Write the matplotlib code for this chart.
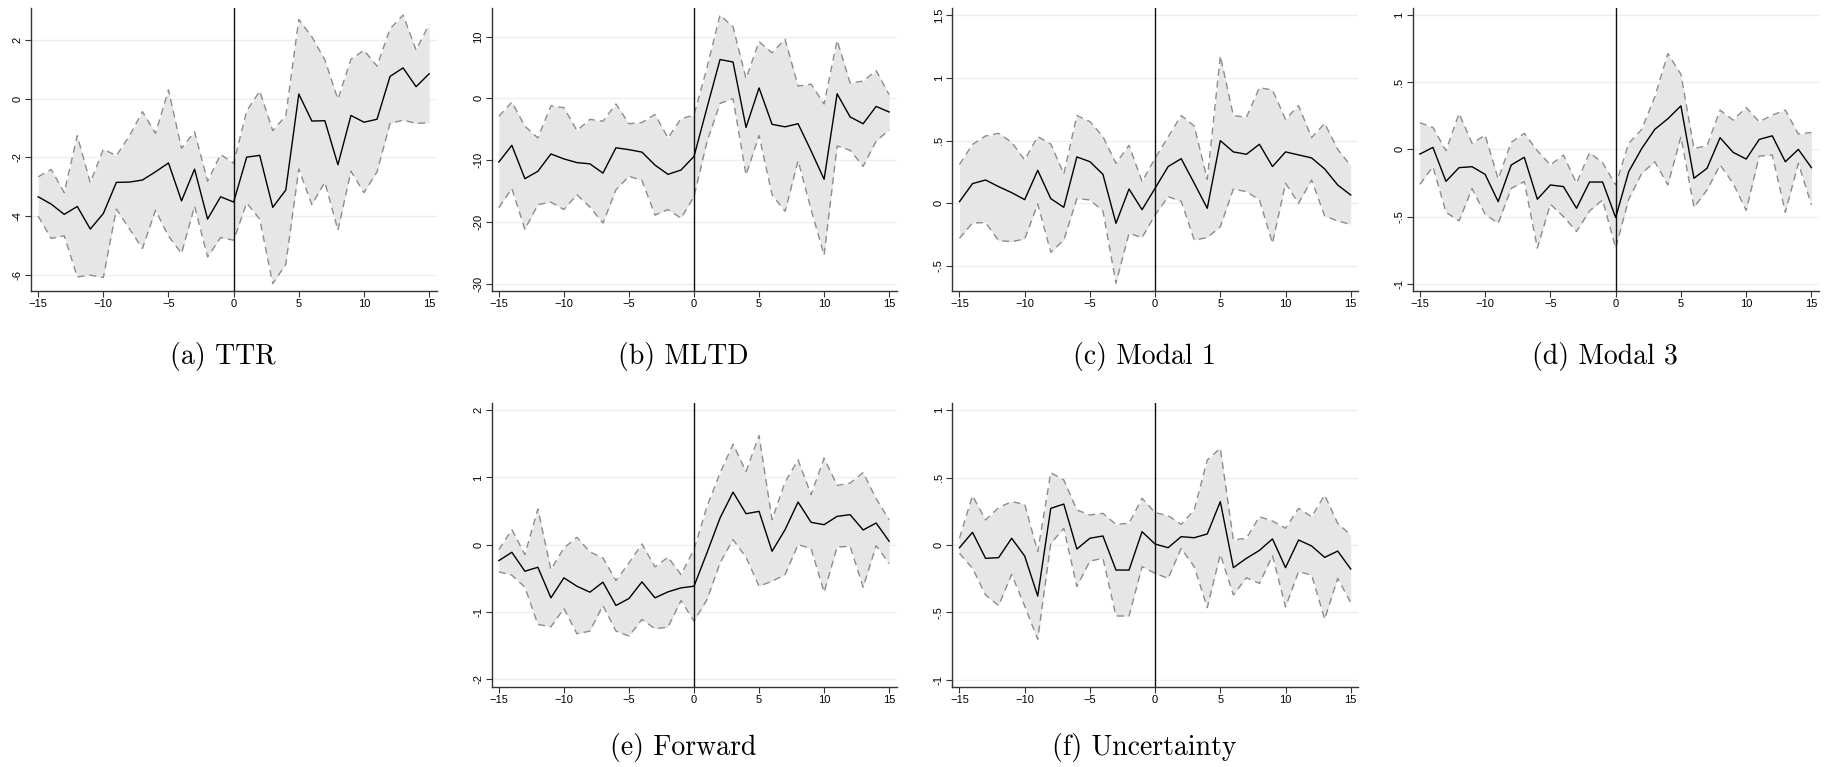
import numpy as np
import matplotlib
matplotlib.use("Agg")
import matplotlib.pyplot as plt
from matplotlib.ticker import FuncFormatter

plt.rcParams["mathtext.fontset"] = "cm"
plt.rcParams["font.family"] = ["Liberation Sans", "DejaVu Sans"]

event_time = list(range(-15, 16))

# (a) TTR
ttr_est = [-3.34, -3.59, -3.94, -3.67, -4.44, -3.91, -2.85, -2.84, -2.77, -2.49, -2.19,
           -3.48, -2.40, -4.10, -3.34, -3.52, -1.99, -1.93, -3.70, -3.11, 0.16,
           -0.76, -0.75, -2.25, -0.57, -0.80, -0.70, 0.76, 1.05, 0.41, 0.85]
ttr_hi = [-2.66, -2.41, -3.20, -1.26, -2.86, -1.72, -1.94, -1.27, -0.44, -1.18, 0.30,
          -1.69, -1.13, -2.81, -1.90, -2.20, -0.42, 0.26, -1.09, -0.58, 2.70,
          2.11, 1.32, -0.02, 1.34, 1.65, 1.11, 2.38, 2.85, 1.66, 2.53]
ttr_lo = [-4.00, -4.76, -4.67, -6.07, -6.01, -6.09, -3.76, -4.43, -5.10, -3.80, -4.68,
          -5.27, -3.66, -5.39, -4.73, -4.82, -3.55, -4.10, -6.30, -5.64, -2.39,
          -3.61, -2.84, -4.48, -2.47, -3.20, -2.49, -0.84, -0.73, -0.84, -0.82]

# (b) MLTD
mltd_est = [-10.3, -7.6, -13.0, -11.8, -9.0, -9.8, -10.4, -10.6, -12.1, -8.0, -8.3,
            -8.7, -10.8, -12.3, -11.6, -9.4, -1.5, 6.3, 5.9, -4.7, 1.7,
            -4.2, -4.6, -4.1, -8.5, -13.1, 0.75, -3.0, -4.1, -1.3, -2.2]
mltd_hi = [-2.9, -0.6, -4.5, -6.4, -1.2, -1.5, -5.2, -3.4, -3.7, -0.9, -4.1,
           -3.9, -2.6, -6.4, -3.3, -2.7, 5.0, 13.5, 11.6, 3.2, 9.2,
           7.4, 9.6, 2.0, 2.3, -0.9, 9.4, 2.5, 2.8, 4.5, 0.6]
mltd_lo = [-17.7, -14.6, -21.2, -17.2, -16.8, -18.0, -15.6, -17.6, -20.2, -14.8, -12.6,
           -13.3, -18.9, -18.0, -19.4, -15.9, -7.0, -0.8, -0.05, -12.4, -6.0,
           -15.6, -18.3, -10.1, -18.0, -25.4, -7.7, -8.4, -11.0, -6.9, -5.1]

# (c) Modal 1
modal1_est = [0.013, 0.157, 0.186, 0.133, 0.085, 0.029, 0.263, 0.037, -0.032, 0.370, 0.332,
              0.231, -0.160, 0.114, -0.051, 0.12, 0.293, 0.356, 0.16, -0.040, 0.500,
              0.410, 0.391, 0.471, 0.293, 0.410, 0.386, 0.362, 0.274, 0.146, 0.066]
modal1_hi = [0.31, 0.47, 0.537, 0.558, 0.487, 0.346, 0.532, 0.473, 0.234, 0.70, 0.652,
             0.532, 0.319, 0.463, 0.173, 0.359, 0.53, 0.70, 0.617, 0.191, 1.176,
             0.70, 0.686, 0.923, 0.904, 0.670, 0.779, 0.524, 0.638, 0.43, 0.30]
modal1_lo = [-0.279, -0.157, -0.154, -0.298, -0.306, -0.285, -0.005, -0.391, -0.293, 0.037, 0.027,
             -0.061, -0.638, -0.239, -0.274, -0.093, 0.053, 0.016, -0.293, -0.274, -0.186,
             0.114, 0.093, 0.027, -0.319, 0.160, 0.0, 0.186, -0.101, -0.141, -0.168]

# (d) Modal 3
modal3_est = [-0.035, 0.015, -0.238, -0.136, -0.129, -0.186, -0.389, -0.116, -0.059, -0.371, -0.265,
              -0.277, -0.438, -0.243, -0.243, -0.507, -0.166, 0.007, 0.149, 0.228, 0.324,
              -0.215, -0.141, 0.087, -0.022, -0.072, 0.074, 0.101, -0.092, 0.0, -0.136]
modal3_hi = [0.198, 0.163, -0.010, 0.267, 0.045, 0.106, -0.220, 0.052, 0.119, -0.010, -0.116,
             -0.042, -0.252, -0.025, -0.099, -0.265, 0.045, 0.149, 0.391, 0.713, 0.559,
             0.007, 0.027, 0.292, 0.218, 0.312, 0.205, 0.255, 0.292, 0.114, 0.126]
modal3_lo = [-0.260, -0.129, -0.468, -0.532, -0.292, -0.483, -0.550, -0.290, -0.240, -0.735, -0.408,
             -0.500, -0.611, -0.458, -0.376, -0.735, -0.371, -0.178, -0.092, -0.265, 0.094,
             -0.431, -0.302, -0.116, -0.252, -0.455, -0.050, -0.042, -0.468, -0.104, -0.413]

# (e) Forward
forward_est = [-0.238, -0.114, -0.396, -0.337, -0.792, -0.495, -0.619, -0.708, -0.559, -0.906, -0.802,
               -0.554, -0.792, -0.703, -0.644, -0.619, -0.12, 0.396, 0.782, 0.460, 0.495,
               -0.099, 0.223, 0.634, 0.332, 0.297, 0.421, 0.446, 0.218, 0.322, 0.050]
forward_hi = [-0.074, 0.223, -0.149, 0.530, -0.371, -0.050, 0.109, -0.109, -0.198, -0.535, -0.272,
              0.010, -0.332, -0.188, -0.446, -0.074, 0.57, 1.064, 1.495, 1.089, 1.624,
              0.371, 0.931, 1.262, 0.743, 1.287, 0.881, 0.916, 1.074, 0.683, 0.371]
forward_lo = [-0.406, -0.455, -0.634, -1.188, -1.223, -0.950, -1.327, -1.287, -0.906, -1.287, -1.361,
              -1.114, -1.252, -1.228, -0.832, -1.139, -0.817, -0.272, 0.074, -0.188, -0.619,
              -0.545, -0.446, 0.0, -0.059, -0.708, -0.035, -0.025, -0.634, -0.015, -0.282]

# (f) Uncertainty
uncert_est = [-0.020, 0.094, -0.099, -0.094, 0.050, -0.082, -0.379, 0.272, 0.304, -0.030, 0.050,
              0.067, -0.186, -0.186, 0.099, 0.007, -0.020, 0.062, 0.054, 0.082, 0.322,
              -0.168, -0.099, -0.040, 0.045, -0.168, 0.037, -0.007, -0.092, -0.045, -0.178]
uncert_hi = [0.050, 0.366, 0.186, 0.277, 0.322, 0.302, -0.050, 0.537, 0.483, 0.260, 0.223,
             0.235, 0.153, 0.161, 0.347, 0.240, 0.218, 0.153, 0.260, 0.631, 0.718,
             0.037, 0.050, 0.210, 0.178, 0.124, 0.272, 0.210, 0.371, 0.161, 0.074]
uncert_lo = [-0.062, -0.173, -0.371, -0.450, -0.218, -0.453, -0.700, 0.012, 0.124, -0.309, -0.119,
             -0.099, -0.527, -0.527, -0.161, -0.210, -0.248, -0.025, -0.161, -0.465, -0.069,
             -0.371, -0.243, -0.285, -0.079, -0.460, -0.198, -0.223, -0.550, -0.248, -0.428]

x_ticks = [-15, -10, -5, 0, 5, 10, 15]

panels = [
    dict(title="(a) TTR", est=ttr_est, hi=ttr_hi, lo=ttr_lo,
         yticks=[-6, -4, -2, 0, 2], ylim=(-6.55, 3.08)),
    dict(title="(b) MLTD", est=mltd_est, hi=mltd_hi, lo=mltd_lo,
         yticks=[-30, -20, -10, 0, 10], ylim=(-31.2, 14.6)),
    dict(title="(c) Modal 1", est=modal1_est, hi=modal1_hi, lo=modal1_lo,
         yticks=[-0.5, 0, 0.5, 1, 1.5], ylim=(-0.70, 1.556)),
    dict(title="(d) Modal 3", est=modal3_est, hi=modal3_hi, lo=modal3_lo,
         yticks=[-1, -0.5, 0, 0.5, 1], ylim=(-1.054, 1.05)),
    dict(title="(e) Forward", est=forward_est, hi=forward_hi, lo=forward_lo,
         yticks=[-2, -1, 0, 1, 2], ylim=(-2.115, 2.104)),
    dict(title="(f) Uncertainty", est=uncert_est, hi=uncert_hi, lo=uncert_lo,
         yticks=[-1, -0.5, 0, 0.5, 1], ylim=(-1.052, 1.052)),
]

W, H = 1832, 767
fig = plt.figure(figsize=(W / 100, H / 100), dpi=100)

# axes boxes in pixels: left, right, top, bottom
boxes = [
    (31.0, 436.7, 8.3, 291.0),
    (491.7, 896.7, 8.3, 291.0),
    (952.3, 1358.3, 8.3, 291.0),
    (1412.7, 1819.0, 8.3, 291.0),
    (491.7, 896.7, 403.3, 686.7),
    (952.3, 1358.3, 403.3, 686.7),
]
caption_y = [356, 356, 356, 356, 748, 748]


def stata_fmt(v, pos):
    if abs(v) < 1e-12:
        return "0"
    s = ("%g" % v)
    s = s.replace("0.", ".")
    return s


spine_col = "#333333"
for p, (l, r, t, b), cy in zip(panels, boxes, caption_y):
    ax = fig.add_axes([l / W, 1 - b / H, (r - l) / W, (b - t) / H])
    x = np.array(event_time)
    ax.fill_between(x, p["lo"], p["hi"], color="#e6e6e6", lw=0, zorder=1)
    ax.plot(x, p["hi"], color="#8c8c8c", lw=1.0, ls=(0, (5, 3.5)), zorder=2)
    ax.plot(x, p["lo"], color="#8c8c8c", lw=1.0, ls=(0, (5, 3.5)), zorder=2)
    ax.axvline(0, color="#111111", lw=1.0, zorder=3)
    ax.plot(x, p["est"], color="#000000", lw=1.0, zorder=4)
    ax.set_xlim(-15.55, 15.58)
    ax.set_ylim(*p["ylim"])
    ax.set_xticks(x_ticks)
    ax.set_yticks(p["yticks"])
    ax.yaxis.set_major_formatter(FuncFormatter(stata_fmt))
    for yt in p["yticks"]:
        ax.axhline(yt, color="#e8f0f0", lw=1.0, zorder=0)
    for side in ("top", "right"):
        ax.spines[side].set_visible(False)
    for side in ("left", "bottom"):
        ax.spines[side].set_color(spine_col)
        ax.spines[side].set_linewidth(1.0)
    ax.tick_params(axis="both", direction="out", length=4, width=0.8,
                   color=spine_col, labelsize=8, pad=2)
    for lab in ax.get_yticklabels():
        lab.set_rotation(90)
        lab.set_va("center")
    cx = (l + r) / 2 - 11
    fig.text(cx / W, 1 - cy / H, p["title"], family="cmr10",
             ha="center", va="center", fontsize=20)

fig.savefig("out.png", dpi=100)
